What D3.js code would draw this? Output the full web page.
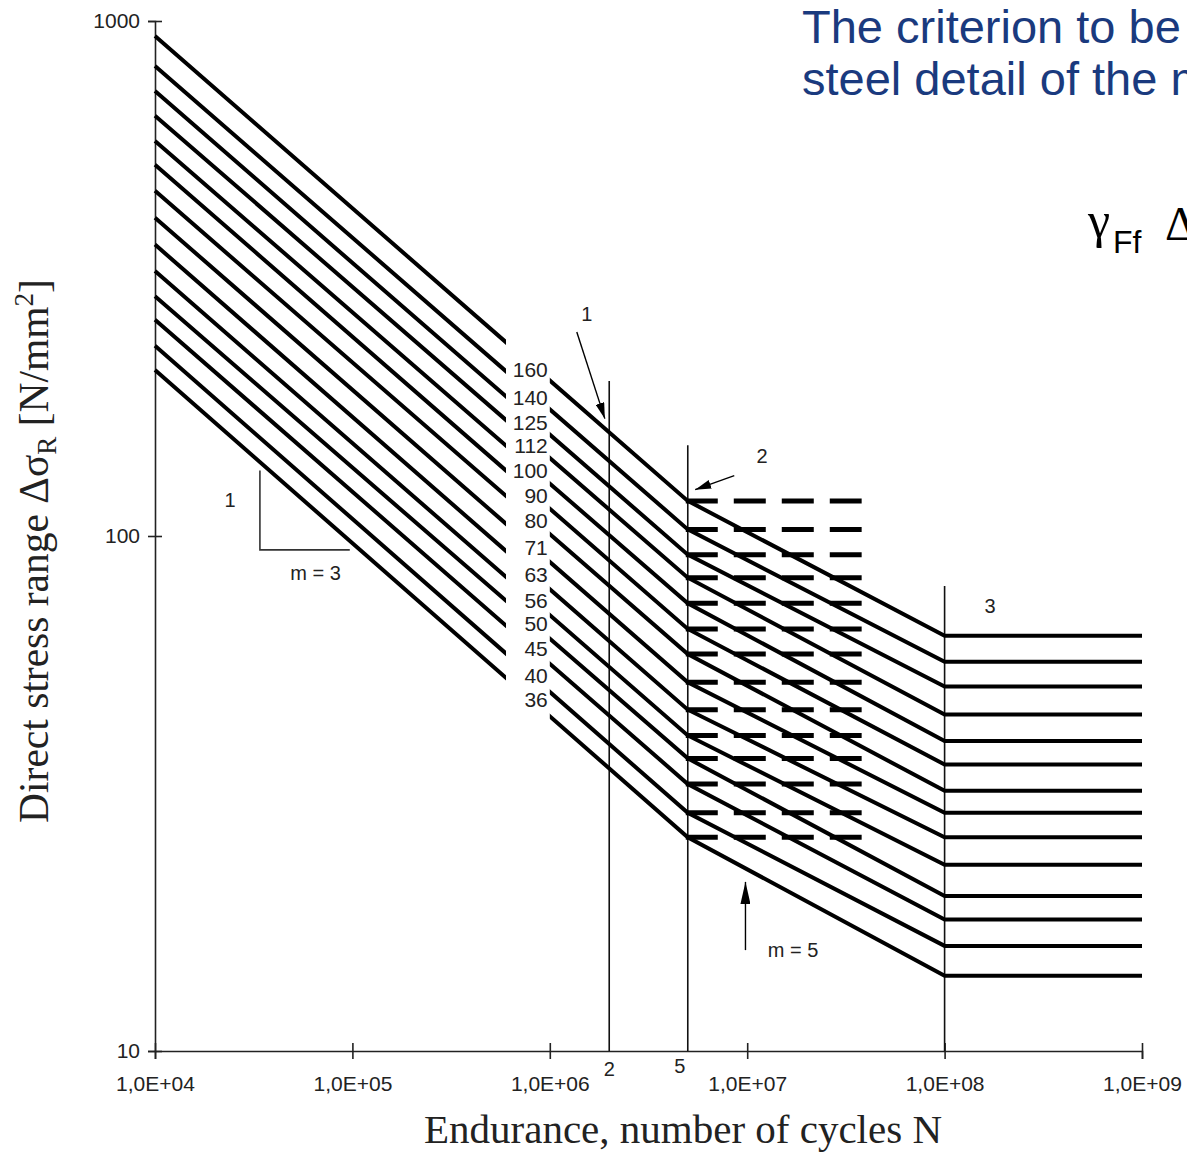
<!DOCTYPE html>
<html>
<head>
<meta charset="utf-8">
<script src="https://cdn.jsdelivr.net/npm/d3@7"></script>
<style>
body { margin: 0; background: #fff; overflow: hidden; }
svg { display: block; }
</style>
</head>
<body>
<script>
// detail categories (stress range at 2 million cycles)
var categories = [160, 140, 125, 112, 100, 90, 80, 71, 63, 56, 50, 45, 40, 36];
// where each curve starts, at N = 1E+04
var startValues = [935, 818, 731, 655, 585, 526, 468, 415, 368, 327, 292, 263, 234, 210];
// constant amplitude fatigue limit, at N = 5E+06
var limitD = [117, 103, 92, 83, 74, 66, 59, 52, 46, 41, 37, 33, 29, 26];
// cut-off limit, at N = 1E+08
var limitL = [64, 57, 51, 45, 40, 36, 32, 29, 26, 23, 20, 18, 16, 14];
var nBreaks = [1e4, 5e6, 1e8, 1e9];

var xTicks = [1e4, 1e5, 1e6, 1e7, 1e8, 1e9];
var xTickLabels = ["1,0E+04", "1,0E+05", "1,0E+06", "1,0E+07", "1,0E+08", "1,0E+09"];
var yTicks = [10, 100, 1000];
var yTickLabels = ["10", "100", "1000"];

// vertical reference lines (N) and the stress where they stop
var refN = [2e6, 5e6, 1e8];
var refTop = [200, 150, 80];
var dashEndN = 3.8e7;   // dashed continuation of the m=3 part
var gapN = [6e5, 1e6];  // break in the curves where the labels sit

var W = 1187, H = 1153;
var labelFont = "'Liberation Sans', Arial, sans-serif";
var serifFont = "'Liberation Serif', 'Times New Roman', serif";

var svg = d3.select("body").append("svg")
    .attr("width", W)
    .attr("height", H);

var x = d3.scaleLog().domain([1e4, 1e9]).range([155, 1142]);
var y = d3.scaleLog().domain([10, 1000]).range([1051, 21]);

var defs = svg.append("defs");
defs.append("marker")
    .attr("id", "head")
    .attr("viewBox", "0 0 16 9")
    .attr("markerUnits", "userSpaceOnUse")
    .attr("markerWidth", 16).attr("markerHeight", 9)
    .attr("refX", 16).attr("refY", 4.5)
    .attr("orient", "auto")
    .append("path").attr("d", "M0,0 L16,4.5 L0,9 Z").attr("fill", "#000");
defs.append("marker")
    .attr("id", "headBig")
    .attr("viewBox", "0 0 22 10")
    .attr("markerUnits", "userSpaceOnUse")
    .attr("markerWidth", 22).attr("markerHeight", 10)
    .attr("refX", 22).attr("refY", 5)
    .attr("orient", "auto")
    .append("path").attr("d", "M0,0 L22,5 L0,10 Z").attr("fill", "#000");

// axes
var gx = svg.append("g")
    .attr("transform", "translate(0," + y(10) + ")")
    .call(d3.axisBottom(x).tickValues(xTicks)
        .tickFormat(function(d, i) { return xTickLabels[i]; })
        .tickSizeOuter(0).tickSize(8));
gx.selectAll(".tick line").attr("y1", -8).attr("y2", 8);
gx.selectAll(".tick text").attr("y", 40).attr("dy", 0)
    .style("font-family", labelFont).style("font-size", "21px").attr("fill", "#222");

var gy = svg.append("g")
    .attr("transform", "translate(" + x(1e4) + ",0)")
    .call(d3.axisLeft(y).tickValues(yTicks)
        .tickFormat(function(d, i) { return yTickLabels[i]; })
        .tickSizeOuter(0).tickSize(7));
gy.selectAll(".tick line").attr("x1", 7).attr("x2", -7);
gy.selectAll(".tick text").attr("x", -15)
    .style("font-family", labelFont).style("font-size", "21px").attr("fill", "#222");

svg.selectAll(".domain, .tick line").attr("stroke", "#222").attr("stroke-width", 1.6);

// reference lines
svg.append("g").selectAll("line")
    .data(refN)
    .enter()
    .append("line")
    .attr("x1", function(d) { return x(d); })
    .attr("x2", function(d) { return x(d); })
    .attr("y1", function(d, i) { return y(refTop[i]); })
    .attr("y2", y(10))
    .attr("stroke", "#111")
    .attr("stroke-width", 1.6);

// dashed lines at the fatigue limit
svg.append("g").selectAll("line")
    .data(limitD)
    .enter()
    .append("line")
    .attr("x1", x(nBreaks[1]) - 2)
    .attr("x2", x(dashEndN))
    .attr("y1", function(d) { return y(d); })
    .attr("y2", function(d) { return y(d); })
    .attr("stroke", "#000")
    .attr("stroke-width", 5)
    .attr("stroke-dasharray", "32,16");

// S-N curves
var line = d3.line()
    .x(function(d) { return x(d[0]); })
    .y(function(d) { return y(d[1]); });

svg.append("g").selectAll("path")
    .data(categories)
    .enter()
    .append("path")
    .attr("d", function(c, i) {
        return line([[nBreaks[0], startValues[i]], [nBreaks[1], limitD[i]],
                     [nBreaks[2], limitL[i]], [nBreaks[3], limitL[i]]]);
    })
    .attr("fill", "none")
    .attr("stroke", "#000")
    .attr("stroke-width", 4)
    .attr("stroke-linejoin", "miter");

// white band that breaks the curves for the labels
svg.append("rect")
    .attr("x", x(gapN[0]))
    .attr("width", x(gapN[1]) - x(gapN[0]))
    .attr("y", y(270))
    .attr("height", y(40) - y(270))
    .attr("fill", "#fff");

// category labels, just above where each curve restarts
var tGap = (Math.log10(gapN[1]) - Math.log10(nBreaks[0])) /
           (Math.log10(nBreaks[1]) - Math.log10(nBreaks[0]));
svg.append("g").selectAll("text")
    .data(categories)
    .enter()
    .append("text")
    .text(function(d) { return d; })
    .attr("x", x(gapN[1]) - 2)
    .attr("y", function(c, i) {
        var a = Math.log10(startValues[i]), b = Math.log10(limitD[i]);
        return y(Math.pow(10, a + tGap * (b - a))) - 11 - 0.4 * i;
    })
    .attr("dy", "0.35em")
    .attr("text-anchor", "end")
    .style("font-family", labelFont)
    .style("font-size", "21px")
    .attr("fill", "#222");

// annotations (data coordinates)
function arrow(n1, s1, n2, s2, head) {
    svg.append("line")
        .attr("x1", x(n1)).attr("y1", y(s1))
        .attr("x2", x(n2)).attr("y2", y(s2))
        .attr("stroke", "#000").attr("stroke-width", 1.4)
        .attr("marker-end", "url(#" + head + ")");
}
function note(txt, n, s, anchor) {
    svg.append("text")
        .text(txt)
        .attr("x", x(n)).attr("y", y(s))
        .attr("dy", "0.35em")
        .attr("text-anchor", anchor || "middle")
        .style("font-family", labelFont)
        .style("font-size", "20px")
        .attr("fill", "#222");
}

arrow(1.37e6, 249, 1.9e6, 169, "head");
note("1", 1.54e6, 270);
arrow(8.6e6, 131, 5.45e6, 123, "head");
note("2", 1.19e7, 143);
note("3", 1.7e8, 73);
arrow(9.8e6, 15.7, 9.8e6, 21.3, "headBig");
note("m = 5", 1.27e7, 15.7, "start");

// slope triangle m = 3
svg.append("path")
    .attr("d", line([[3.4e4, 134], [3.4e4, 94], [9.7e4, 94]]))
    .attr("fill", "none")
    .attr("stroke", "#333")
    .attr("stroke-width", 1.6);
note("1", 2.4e4, 117.5);
note("m = 3", 6.5e4, 84.7);

// N = 2 and 5 million marks under the axis
svg.append("text").text("2")
    .attr("x", x(2e6)).attr("y", 1076)
    .attr("text-anchor", "middle")
    .style("font-family", labelFont).style("font-size", "20px").attr("fill", "#222");
svg.append("text").text("5")
    .attr("x", x(5e6) - 8).attr("y", 1073)
    .attr("text-anchor", "middle")
    .style("font-family", labelFont).style("font-size", "20px").attr("fill", "#222");

// axis titles
svg.append("text")
    .text("Endurance, number of cycles N")
    .attr("x", 683).attr("y", 1143)
    .attr("text-anchor", "middle")
    .style("font-family", serifFont).style("font-size", "41px").attr("fill", "#222");

var yt = svg.append("text")
    .attr("transform", "translate(48,551) rotate(-90)")
    .attr("text-anchor", "middle")
    .style("font-family", serifFont).style("font-size", "41.5px").attr("fill", "#222");
yt.append("tspan").text("Direct stress range Δσ");
yt.append("tspan").text("R").attr("dy", 8).style("font-size", "27px");
yt.append("tspan").text(" [N/mm").attr("dy", -8);
yt.append("tspan").text("2").attr("dy", -15).style("font-size", "27px");
yt.append("tspan").text("]").attr("dy", 15);

// slide text on the right (cut by the page edge, as in the source)
var slide = svg.append("text")
    .style("font-family", labelFont).style("font-size", "47px").attr("fill", "#1a3a7e");
slide.append("tspan").attr("x", 802).attr("y", 43).text("The criterion to be fulfilled for every");
slide.append("tspan").attr("x", 802).attr("y", 95).text("steel detail of the member is:");

svg.append("text").text("γ")
    .attr("x", 1088).attr("y", 237)
    .style("font-family", serifFont).style("font-size", "50px").attr("fill", "#000");
svg.append("text").text("Ff")
    .attr("x", 1113).attr("y", 253)
    .style("font-family", labelFont).style("font-size", "32px").attr("fill", "#000");
svg.append("text").text("Δσ")
    .attr("x", 1165).attr("y", 240)
    .style("font-family", serifFont).style("font-size", "48px").attr("fill", "#000");
</script>
</body>
</html>
